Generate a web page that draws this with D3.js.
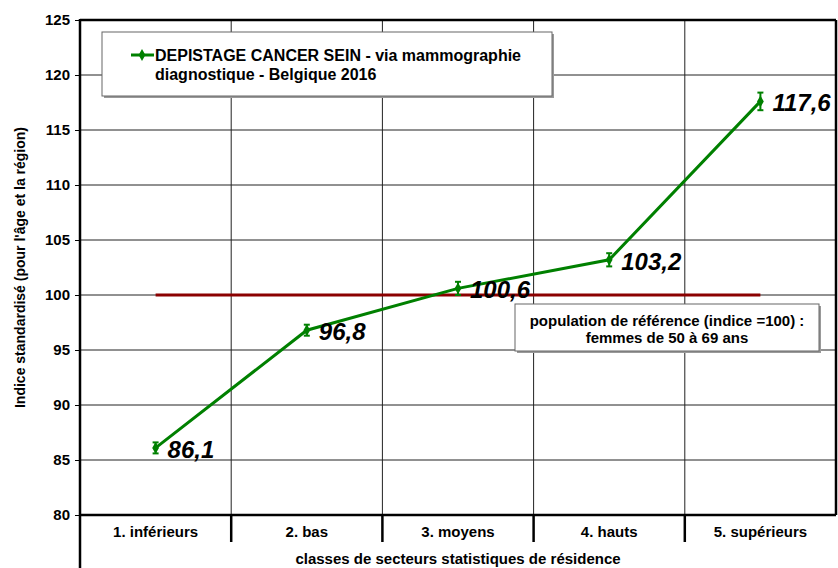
<!DOCTYPE html>
<html>
<head>
<meta charset="utf-8">
<script src="https://d3js.org/d3.v7.min.js"></script>
<style>
  body { margin: 0; background: #fff; }
  text { font-family: "Liberation Sans", Arial, sans-serif; font-weight: bold; fill: #000; }
</style>
</head>
<body>
<script>
var categories = ["1. inférieurs", "2. bas", "3. moyens", "4. hauts", "5. supérieurs"];
var values = [86.1, 96.8, 100.6, 103.2, 117.6];
var lower = [85.6, 96.3, 100.0, 102.6, 116.8];
var upper = [86.6, 97.3, 101.2, 103.8, 118.4];
var labels = ["86,1", "96,8", "100,6", "103,2", "117,6"];
var yTicks = [80, 85, 90, 95, 100, 105, 110, 115, 120, 125];
var reference = 100;

var width = 838, height = 568;
var mLeft = 80, mRight = 836, mTop = 20, mBottom = 515;

var svg = d3.select("body").append("svg")
  .attr("width", width).attr("height", height);

var x = d3.scaleBand().domain(categories).range([mLeft, mRight]);
var y = d3.scaleLinear().domain([80, 125]).range([mBottom, mTop]);
var cx = function (i) { return x(categories[i]) + x.bandwidth() / 2; };

// grid
svg.append("g").selectAll("line").data(yTicks.slice(1, -1)).enter().append("line")
  .attr("x1", mLeft).attr("x2", mRight)
  .attr("y1", function (d) { return y(d); }).attr("y2", function (d) { return y(d); })
  .attr("stroke", "#222").attr("stroke-width", 1);
svg.append("g").selectAll("line").data(categories.slice(1)).enter().append("line")
  .attr("x1", function (d) { return x(d); }).attr("x2", function (d) { return x(d); })
  .attr("y1", mTop).attr("y2", mBottom)
  .attr("stroke", "#222").attr("stroke-width", 1);

// frame top/right
svg.append("line").attr("x1", mLeft).attr("x2", mRight).attr("y1", mTop).attr("y2", mTop)
  .attr("stroke", "#000").attr("stroke-width", 2.5);
svg.append("line").attr("x1", mRight).attr("x2", mRight).attr("y1", mTop).attr("y2", mBottom)
  .attr("stroke", "#000").attr("stroke-width", 2.5);

// y axis
var yAxis = svg.append("g").attr("transform", "translate(" + mLeft + ",0)")
  .call(d3.axisLeft(y).tickValues(yTicks).tickSize(5).tickPadding(5).tickFormat(d3.format("d")));
yAxis.select(".domain").remove();
yAxis.selectAll(".tick line").attr("stroke", "#000");
yAxis.selectAll(".tick text").style("font-size", "15px").style("font-family", "Liberation Sans, Arial, sans-serif").style("font-weight", "bold");
svg.append("line").attr("x1", mLeft).attr("x2", mLeft).attr("y1", mTop - 1).attr("y2", height)
  .attr("stroke", "#000").attr("stroke-width", 2.5);

// x axis
var xAxis = svg.append("g").attr("transform", "translate(0," + mBottom + ")")
  .call(d3.axisBottom(x).tickSize(0).tickPadding(11));
xAxis.select(".domain").remove();
xAxis.selectAll(".tick text").style("font-size", "15px").style("font-family", "Liberation Sans, Arial, sans-serif").style("font-weight", "bold");
svg.append("line").attr("x1", mLeft).attr("x2", mRight).attr("y1", mBottom).attr("y2", mBottom)
  .attr("stroke", "#000").attr("stroke-width", 2.5);
svg.append("g").selectAll("line").data(categories.slice(1)).enter().append("line")
  .attr("x1", function (d) { return x(d); }).attr("x2", function (d) { return x(d); })
  .attr("y1", mBottom).attr("y2", mBottom + 27)
  .attr("stroke", "#000").attr("stroke-width", 2.5);

// axis titles
svg.append("text").text("classes de secteurs statistiques de résidence")
  .attr("x", (mLeft + mRight) / 2).attr("y", 564).attr("text-anchor", "middle")
  .style("font-size", "15px");
svg.append("text").text("Indice standardisé (pour l'âge et la région)")
  .attr("transform", "translate(25," + ((mTop + mBottom) / 2) + ") rotate(-90)")
  .attr("text-anchor", "middle").style("font-size", "14px");

// reference line
svg.append("line").attr("x1", cx(0)).attr("x2", cx(4))
  .attr("y1", y(reference)).attr("y2", y(reference))
  .attr("stroke", "#8b0000").attr("stroke-width", 3);

// series line
var green = "#008000";
svg.append("path").datum(values)
  .attr("d", d3.line().x(function (d, i) { return cx(i); }).y(function (d) { return y(d); }))
  .attr("fill", "none").attr("stroke", green).attr("stroke-width", 3);

// error bars
var eb = svg.append("g").attr("stroke", green).attr("stroke-width", 2);
values.forEach(function (v, i) {
  eb.append("line").attr("x1", cx(i)).attr("x2", cx(i)).attr("y1", y(lower[i])).attr("y2", y(upper[i]));
  eb.append("line").attr("x1", cx(i) - 3).attr("x2", cx(i) + 3).attr("y1", y(lower[i])).attr("y2", y(lower[i]));
  eb.append("line").attr("x1", cx(i) - 3).attr("x2", cx(i) + 3).attr("y1", y(upper[i])).attr("y2", y(upper[i]));
});

// markers
var diamond = d3.symbol().type(d3.symbolDiamond).size(40);
svg.append("g").selectAll("path").data(values).enter().append("path")
  .attr("d", diamond)
  .attr("transform", function (d, i) { return "translate(" + cx(i) + "," + y(d) + ")"; })
  .attr("fill", green);

// value labels
svg.append("g").selectAll("text").data(values).enter().append("text")
  .text(function (d, i) { return labels[i]; })
  .attr("x", function (d, i) { return cx(i) + 12; })
  .attr("y", function (d) { return y(d) + 10; })
  .style("font-size", "24px").style("font-style", "italic");

// legend box
var lg = svg.append("g");
lg.append("rect").attr("x", 104).attr("y", 34).attr("width", 450).attr("height", 64).attr("fill", "#999");
lg.append("rect").attr("x", 102).attr("y", 32).attr("width", 450).attr("height", 64)
  .attr("fill", "#fff").attr("stroke", "#666").attr("stroke-width", 1);
lg.append("line").attr("x1", 131).attr("x2", 154).attr("y1", 55).attr("y2", 55)
  .attr("stroke", green).attr("stroke-width", 3);
lg.append("path").attr("d", diamond).attr("transform", "translate(142,55)").attr("fill", green);
lg.append("text").text("DEPISTAGE CANCER SEIN - via mammographie").attr("x", 155).attr("y", 61).style("font-size", "16px");
lg.append("text").text("diagnostique - Belgique 2016").attr("x", 155).attr("y", 80).style("font-size", "16px");

// reference box
var rb = svg.append("g");
rb.append("rect").attr("x", 517).attr("y", 306).attr("width", 304).attr("height", 47).attr("fill", "#999");
rb.append("rect").attr("x", 515).attr("y", 304).attr("width", 304).attr("height", 47)
  .attr("fill", "#fff").attr("stroke", "#666").attr("stroke-width", 1);
rb.append("text").text("population de référence (indice =100) :").attr("x", 667).attr("y", 326)
  .attr("text-anchor", "middle").style("font-size", "15px");
rb.append("text").text("femmes de 50 à 69 ans").attr("x", 667).attr("y", 343)
  .attr("text-anchor", "middle").style("font-size", "15px");
</script>
</body>
</html>
